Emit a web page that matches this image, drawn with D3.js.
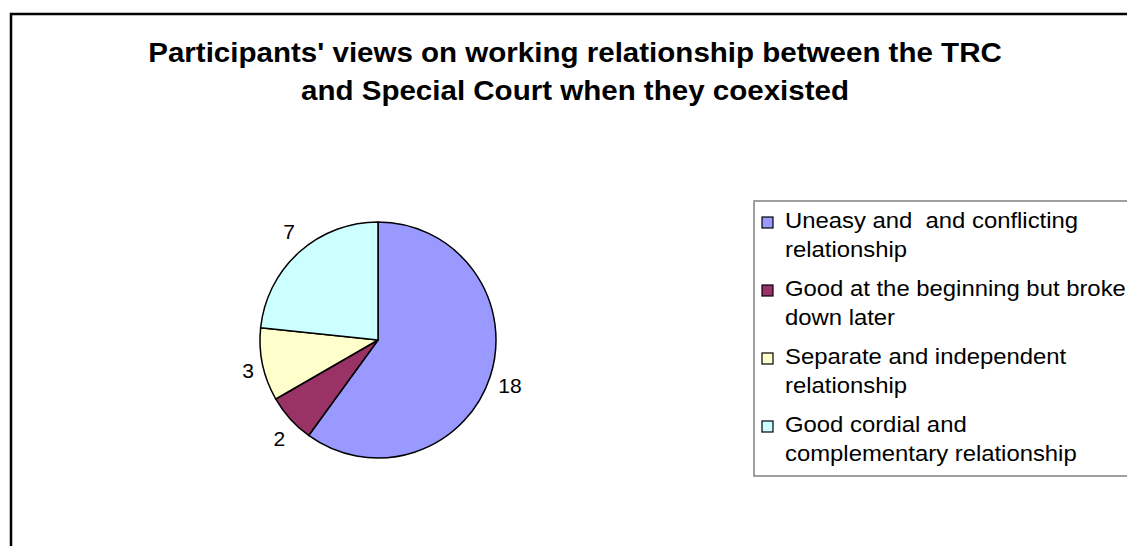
<!DOCTYPE html>
<html>
<head>
<meta charset="utf-8">
<script src="https://cdn.jsdelivr.net/npm/d3@7"></script>
<style>
  html, body { margin: 0; padding: 0; background: #fff; }
  svg { display: block; font-family: "Liberation Sans", Arial, sans-serif; }
  text { white-space: pre; }
</style>
</head>
<body>
<svg id="chart" width="1127" height="546"></svg>
<script>
// ---- data ----
const titleLines = [
  "Participants' views on working relationship between the TRC",
  "and Special Court when they coexisted"
];
const categories = [
  "Uneasy and  and conflicting relationship",
  "Good at the beginning but broke down later",
  "Separate and independent relationship",
  "Good cordial and complementary relationship"
];
const legendLines = [
  ["Uneasy and  and conflicting", "relationship"],
  ["Good at the beginning but broke", "down later"],
  ["Separate and independent", "relationship"],
  ["Good cordial and", "complementary relationship"]
];
const values = [18, 2, 3, 7];
const colors = ["#9999FF", "#993366", "#FFFFCC", "#CCFFFF"];

// ---- layout ----
const svg = d3.select("#chart");
const W = 1127, H = 546;

// chart area border (extends beyond the right / bottom edge)
svg.append("rect")
  .attr("x", 11).attr("y", 14)
  .attr("width", W + 20).attr("height", H + 20)
  .attr("fill", "#fff").attr("stroke", "#000").attr("stroke-width", 2.5);

// title
const title = svg.append("text")
  .attr("transform", "translate(575,0) scale(1.055,1)")
  .attr("text-anchor", "middle")
  .attr("font-weight", "bold")
  .attr("font-size", 28)
  .attr("fill", "#000");
title.selectAll("tspan").data(titleLines).join("tspan")
  .attr("x", 0)
  .attr("y", (d, i) => 62 + i * 38.5)
  .text(d => d);

// pie
const cx = 378, cy = 340, R = 118;
const pie = d3.pie().sort(null).value(d => d)
  .startAngle(0).endAngle(2 * Math.PI);
const arcs = pie(values);
const arc = d3.arc().innerRadius(0).outerRadius(R);

const g = svg.append("g").attr("transform", `translate(${cx},${cy})`);
g.selectAll("path").data(arcs).join("path")
  .attr("d", arc)
  .attr("fill", (d, i) => colors[i])
  .attr("stroke", "#000")
  .attr("stroke-width", 1.5)
  .attr("stroke-linejoin", "round");

// data labels placed outside each slice along its mid angle
const labelFont = 21;
g.selectAll("text.lbl").data(arcs).join("text")
  .attr("class", "lbl")
  .attr("font-size", labelFont)
  .attr("text-anchor", "middle")
  .attr("fill", "#000")
  .text(d => d.value)
  .each(function (d) {
    const a = (d.startAngle + d.endAngle) / 2;
    const ux = Math.sin(a), uy = -Math.cos(a);
    const w = this.getComputedTextLength();
    const h = labelFont;
    const x = (R + 9) * ux + ux * w / 2;
    const y = (R + 16) * uy + uy * h * 0.6 + 7.5;
    d3.select(this).attr("x", x).attr("y", y);
  });

// legend
const lgX = 754, lgY = 201, lgH = 275;
svg.append("rect")
  .attr("x", lgX).attr("y", lgY)
  .attr("width", W - lgX + 20).attr("height", lgH)
  .attr("fill", "#fff").attr("stroke", "#808080").attr("stroke-width", 1.5);

const legendY = d3.scaleBand().domain(d3.range(categories.length))
  .range([228, 228 + 68 * 4]);

const items = svg.selectAll("g.legend").data(categories).join("g")
  .attr("class", "legend")
  .attr("transform", (d, i) => `translate(0,${legendY(i)})`);
items.append("rect")
  .attr("x", 762).attr("y", -11)
  .attr("width", 11).attr("height", 11)
  .attr("fill", (d, i) => colors[i])
  .attr("stroke", "#000").attr("stroke-width", 1.2);
items.append("text")
  .attr("transform", "translate(785,0) scale(1.085,1)")
  .attr("font-size", 22)
  .attr("fill", "#000")
  .selectAll("tspan").data((d, i) => legendLines[i]).join("tspan")
  .attr("x", 0)
  .attr("y", (d, j) => j * 29)
  .text(d => d);
</script>
</body>
</html>
